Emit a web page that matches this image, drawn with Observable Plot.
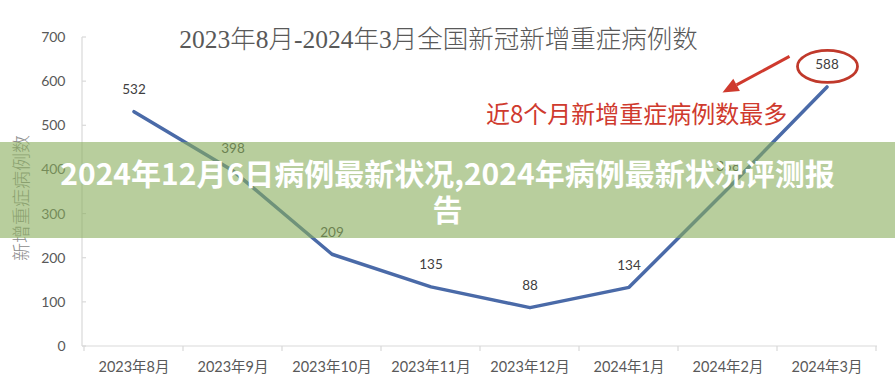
<!DOCTYPE html>
<html>
<head>
<meta charset="utf-8">
<script src="https://cdn.jsdelivr.net/npm/d3@7"></script>
<script src="https://cdn.jsdelivr.net/npm/@observablehq/plot@0.6"></script>
<style>
  body { margin: 0; background: #fff; }
  #wrap { position: relative; width: 895px; height: 381px; overflow: hidden; background: #fff;
          font-family: Lato, "Noto Sans CJK SC", sans-serif; }
  #chart { position: absolute; left: 0; top: 0; }
  #title { position: absolute; left: 0; width: 877px; top: 26px; text-align: center; white-space: nowrap;
           font-family: "Liberation Serif", "Noto Sans CJK SC", serif; font-size: 25.5px; line-height: 28px;
           color: #595959; font-weight: 300; }
  #note { position: absolute; left: 486px; top: 99px; white-space: nowrap;
          font-family: "Noto Sans CJK SC", sans-serif; font-size: 24px; line-height: 28px; color: #cf3a2e; }
  #banner { position: absolute; left: 0; top: 142px; width: 895px; height: 96px;
            background: rgba(137, 173, 91, 0.6); }
  #banner div { position: absolute; left: 0; width: 895px; top: 12px; text-align: center;
                font-family: "Noto Sans CJK SC", sans-serif; font-weight: 700; font-size: 30px;
                line-height: 36px; color: #fff; white-space: nowrap; }
</style>
</head>
<body>
<div id="wrap">
  <div id="chart"></div>
  <div id="title">2023年8月-2024年3月全国新冠新增重症病例数</div>
  <div id="note">近8个月新增重症病例数最多</div>
  <div id="banner"><div>2024年12月6日病例最新状况,2024年病例最新状况评测报<br>告</div></div>
</div>
<script>
const months = ["2023年8月", "2023年9月", "2023年10月", "2023年11月", "2023年12月", "2024年1月", "2024年2月", "2024年3月"];
const cases = [532, 398, 209, 135, 88, 134, 358, 588];
const yTicks = [0, 100, 200, 300, 400, 500, 600, 700];
const yTitle = "新增重症病例数";
const peakMonth = "2024年3月";
const peakValue = 588;

const data = months.map((m, i) => ({month: m, value: cases[i]}));

const chart = Plot.plot({
  width: 895,
  height: 381,
  marginLeft: 82,
  marginRight: 18,
  marginTop: 37,
  marginBottom: 35,
  style: {fontFamily: 'Lato, "Noto Sans CJK SC", sans-serif', fontSize: "14px", color: "#595959", background: "transparent"},
  x: {type: "band", domain: months, padding: 0, label: null},
  y: {domain: [0, 700], label: null},
  marks: [
    Plot.axisY({ticks: yTicks, tickSize: 0, tickPadding: 17, fontSize: 14, fill: "#595959", label: null}),
    Plot.axisX({tickSize: 0, tickPadding: 15, fontSize: 14.5, fill: "#595959", label: null}),
    Plot.text([yTitle], {frameAnchor: "left", textAnchor: "middle", rotate: -90, dx: -60, dy: 6, fontSize: 18, fill: "#8c8c8c",
      fontFamily: '"Noto Sans CJK SC", sans-serif', fontWeight: 300}),
    Plot.lineY(data, {x: "month", y: "value", stroke: "#4a6aa8", strokeWidth: 3.5, strokeLinejoin: "round"}),
    Plot.text(data, {x: "month", y: "value", text: d => String(d.value), dy: -22, fontSize: 13.5, fill: "#404040",
      fontFamily: 'Lato, "Liberation Sans", sans-serif'})
  ]
});
document.getElementById("chart").appendChild(chart);

// axis lines and tick marks, placed with the plot's own scales
const sx = chart.scale("x"), sy = chart.scale("y");
const svg = d3.select(chart);
const x0 = 82, x1 = 895 - 18, y0 = sy.apply(0), yTop = sy.apply(700);
const g = svg.append("g").attr("stroke", "#d9d9d9").attr("stroke-width", 1.2);
g.append("line").attr("x1", x0).attr("x2", x0).attr("y1", yTop).attr("y2", y0);
g.append("line").attr("x1", x0).attr("x2", x1).attr("y1", y0).attr("y2", y0);
const bounds = months.map(m => sx.apply(m)).concat([sx.apply(months[months.length - 1]) + sx.bandwidth]);
bounds.forEach(b => g.append("line").attr("x1", b).attr("x2", b).attr("y1", y0).attr("y2", y0 + 5));
yTicks.forEach(v => g.append("line").attr("x1", x0).attr("x2", x0 + 4).attr("y1", sy.apply(v)).attr("y2", sy.apply(v)));

// red ellipse around the peak label and arrow pointing to the note
const cx = sx.apply(peakMonth) + sx.bandwidth / 2 + 1;
const cy = sy.apply(peakValue) - 20;
const red = "#cf3a2e";
svg.append("ellipse").attr("cx", cx).attr("cy", cy).attr("rx", 30).attr("ry", 16)
  .attr("fill", "none").attr("stroke", "#c0392b").attr("stroke-width", 2.8);
const ax1 = cx - 38, ay1 = cy - 10, ax2 = cx - 105, ay2 = cy + 26;
const ang = Math.atan2(ay2 - ay1, ax2 - ax1);
const hl = 16, hw = 7;
const bx = ax2 - hl * Math.cos(ang), by = ay2 - hl * Math.sin(ang);
svg.append("line").attr("x1", ax1).attr("y1", ay1).attr("x2", bx).attr("y2", by)
  .attr("stroke", red).attr("stroke-width", 3);
svg.append("path")
  .attr("d", `M${ax2},${ay2} L${bx + hw * Math.sin(ang)},${by - hw * Math.cos(ang)} L${bx - hw * Math.sin(ang)},${by + hw * Math.cos(ang)} Z`)
  .attr("fill", red);
</script>
</body>
</html>
